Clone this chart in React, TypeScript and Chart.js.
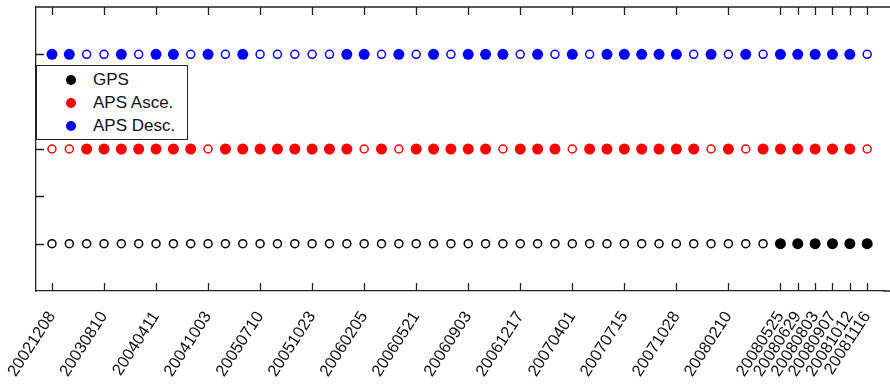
import React, { useEffect, useRef } from "react";
import { Chart, registerables } from "chart.js";

Chart.register(...registerables);

// Tick labels on the x axis and the acquisition index they belong to
const tickLabels = [
  "20021208", "20030810", "20040411", "20041003", "20050710", "20051023",
  "20060205", "20060521", "20060903", "20061217", "20070401", "20070715",
  "20071028", "20080210", "20080525", "20080629", "20080803", "20080907",
  "20081012", "20081116",
];
const tickPositions = [0, 3, 6, 9, 12, 15, 18, 21, 24, 27, 30, 33, 36, 39, 42, 43, 44, 45, 46, 47];

const seriesNames = ["GPS", "APS Asce.", "APS Desc."];
const seriesRows = [1, 2, 3];
const seriesColors = ["#000000", "#ff0000", "#0000ff"];

// 1 = filled marker (used), 0 = open marker
const gpsUsed = [
  0, 0, 0, 0, 0, 0, 0, 0, 0, 0, 0, 0, 0, 0, 0, 0, 0, 0, 0, 0, 0, 0, 0, 0,
  0, 0, 0, 0, 0, 0, 0, 0, 0, 0, 0, 0, 0, 0, 0, 0, 0, 0, 1, 1, 1, 1, 1, 1,
];
const apsAsceUsed = [
  0, 0, 1, 1, 1, 1, 1, 1, 1, 0, 1, 1, 1, 1, 1, 1, 1, 1, 0, 1, 0, 1, 1, 1,
  1, 1, 0, 1, 1, 1, 0, 1, 1, 1, 1, 1, 1, 1, 0, 1, 0, 1, 1, 1, 1, 1, 1, 0,
];
const apsDescUsed = [
  1, 1, 0, 0, 1, 0, 1, 1, 0, 1, 0, 1, 0, 0, 0, 0, 0, 1, 1, 0, 1, 0, 1, 0,
  1, 1, 1, 0, 1, 0, 1, 0, 1, 1, 1, 1, 1, 0, 1, 0, 1, 0, 1, 1, 1, 1, 1, 0,
];
const seriesUsed = [gpsUsed, apsAsceUsed, apsDescUsed];

const FONT = "'Liberation Sans', Arial, Helvetica, sans-serif";
const AXIS_COLOR = "#222222";

const inwardTicks = {
  id: "inwardTicks",
  beforeDatasetsDraw(chart: any) {
    const { ctx, chartArea, scales, width } = chart;
    const xs = scales.x;
    const ys = scales.y;
    ctx.save();
    ctx.strokeStyle = AXIS_COLOR;
    ctx.lineWidth = 1.3;
    // top border and bottom axis continue to the right edge
    ctx.beginPath();
    ctx.moveTo(chartArea.left, chartArea.top);
    ctx.lineTo(width, chartArea.top);
    ctx.moveTo(chartArea.right - 1, chartArea.bottom);
    ctx.lineTo(width, chartArea.bottom);
    ctx.stroke();
    const len = 8;
    ctx.beginPath();
    for (const t of xs.ticks) {
      const px = Math.round(xs.getPixelForValue(t.value)) + 0.5;
      ctx.moveTo(px, chartArea.bottom);
      ctx.lineTo(px, chartArea.bottom - len);
      ctx.moveTo(px, chartArea.top);
      ctx.lineTo(px, chartArea.top + len);
    }
    for (const t of ys.ticks) {
      const py = Math.round(ys.getPixelForValue(t.value)) + 0.5;
      ctx.moveTo(chartArea.left, py);
      ctx.lineTo(chartArea.left + len, py);
    }
    ctx.stroke();
    ctx.restore();
  },
};

export default function App() {
  const canvasRef = useRef<HTMLCanvasElement | null>(null);

  useEffect(() => {
    const canvas = canvasRef.current;
    if (!canvas) return;
    const datasets = seriesNames.map((name, s) => {
      const used = seriesUsed[s];
      const color = seriesColors[s];
      return {
        label: name,
        data: used.map((_, i) => ({ x: i, y: seriesRows[s] })),
        showLine: false,
        pointRadius: used.map((u) => (u ? 5.5 : 4)),
        pointHoverRadius: used.map((u) => (u ? 5.5 : 4)),
        pointBackgroundColor: used.map((u) => (u ? color : "#ffffff")),
        pointBorderColor: color,
        pointBorderWidth: used.map((u) => (u ? 0 : 1.5)),
      };
    });

    const chart = new Chart(canvas, {
      type: "scatter",
      data: { datasets },
      plugins: [inwardTicks],
      options: {
        animation: false,
        responsive: true,
        maintainAspectRatio: false,
        layout: { padding: { top: 7, left: 0, right: 0, bottom: 0 } },
        plugins: { legend: { display: false }, tooltip: { enabled: false } },
        scales: {
          x: {
            type: "linear",
            min: -0.92,
            max: 48.0,
            grid: { display: false, drawTicks: false },
            border: { display: true, color: AXIS_COLOR, width: 1.3 },
            afterBuildTicks: (scale: any) => {
              scale.ticks = tickPositions.map((v) => ({ value: v }));
            },
            afterFit: (scale: any) => {
              scale.height = 93;
              scale.paddingLeft = 0;
              scale.paddingRight = 0;
            },
            ticks: {
              autoSkip: false,
              minRotation: 57,
              maxRotation: 57,
              padding: 17,
              color: "#111111",
              font: { family: FONT, size: 16.5 },
              callback: (v: any) => {
                const k = tickPositions.indexOf(Number(v));
                return k >= 0 ? tickLabels[k] : "";
              },
            },
          },
          y: {
            type: "linear",
            min: 0.5,
            max: 3.5,
            grid: { display: false, drawTicks: false },
            border: { display: true, color: AXIS_COLOR, width: 1.3 },
            afterBuildTicks: (scale: any) => {
              scale.ticks = [1, 1.5, 2, 2.5, 3].map((v) => ({ value: v }));
            },
            afterFit: (scale: any) => {
              scale.width = 36;
              scale.paddingTop = 0;
              scale.paddingBottom = 0;
            },
            ticks: { display: false },
          },
        },
      },
    });
    return () => chart.destroy();
  }, []);

  return (
    <div style={{ position: "absolute", left: 0, top: 0, width: 890, height: 384, background: "#fff" }}>
      <canvas ref={canvasRef} />
      <div
        style={{
          position: "absolute",
          left: 36,
          top: 65,
          width: 150,
          height: 71,
          background: "#ffffff",
          border: "1.5px solid #222",
          fontFamily: FONT,
          fontSize: 17,
          color: "#111",
          paddingTop: 2,
        }}
      >
        {seriesNames.map((name, s) => (
          <div key={name} style={{ height: 23, display: "flex", alignItems: "center" }}>
            <span
              style={{
                display: "inline-block",
                width: 10,
                height: 10,
                borderRadius: 5,
                background: seriesColors[s],
                marginLeft: 29,
                marginRight: 17,
              }}
            />
            <span>{name}</span>
          </div>
        ))}
      </div>
    </div>
  );
}
